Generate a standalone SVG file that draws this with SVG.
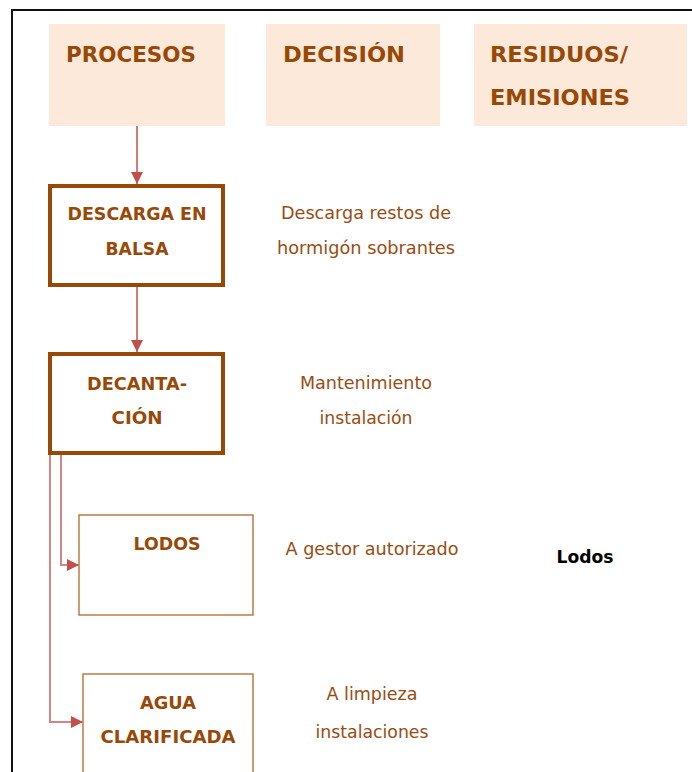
<svg xmlns="http://www.w3.org/2000/svg" width="692" height="772" viewBox="0 0 692 772">
<style>
.hdr{fill:#FDE9D9;stroke:none}
.ht{font-family:"DejaVu Sans","Verdana",sans-serif;font-weight:bold;font-size:22px;fill:#984807}
.nt{font-family:"DejaVu Sans","Verdana",sans-serif;font-weight:bold;font-size:17.5px;fill:#984807;text-anchor:middle}
.dt{font-family:"DejaVu Sans","Verdana",sans-serif;font-size:17.5px;fill:#9A4C12;text-anchor:middle}
.thick{fill:#fff;stroke:#984807;stroke-width:4}
.thin{fill:#fff;stroke:#C07A45;stroke-width:1.5}
.con{fill:none;stroke:#C0504D;stroke-width:1.5}
.con2{fill:none;stroke:#D68585;stroke-width:2}
</style>
<defs>
<marker id="ah" markerWidth="12" markerHeight="12" refX="12" refY="6" orient="auto" markerUnits="userSpaceOnUse">
<path d="M0,0 L12,6 L0,12 Z" fill="#C0504D"/>
</marker>
</defs>
<rect width="692" height="772" fill="#fff"/>
<path d="M12,772 L12,10 L692,10" fill="none" stroke="#111" stroke-width="2"/>
<g id="hdr-procesos"><rect class="hdr" x="49" y="24" width="176" height="102"/><text class="ht" x="66" y="62" textLength="130" lengthAdjust="spacingAndGlyphs">PROCESOS</text></g>
<g id="hdr-decision"><rect class="hdr" x="266" y="24" width="174" height="102"/><text class="ht" x="283" y="62" textLength="122" lengthAdjust="spacingAndGlyphs">DECISIÓN</text></g>
<g id="hdr-residuos"><rect class="hdr" x="474" y="24" width="213" height="102"/><text class="ht" x="490" y="62" textLength="138" lengthAdjust="spacingAndGlyphs">RESIDUOS/</text><text class="ht" x="490" y="105" textLength="140" lengthAdjust="spacingAndGlyphs">EMISIONES</text></g>
<g id="connectors">
<line class="con" x1="137" y1="126" x2="137" y2="184" marker-end="url(#ah)"/>
<line class="con" x1="137" y1="287" x2="137" y2="352" marker-end="url(#ah)"/>
<path class="con2" d="M61,455 L61,565 L79,565" marker-end="url(#ah)"/>
<path class="con2" d="M50,455 L50,722 L83,722" marker-end="url(#ah)"/>
</g>
<g id="descarga"><rect class="thick" x="50" y="186" width="173" height="99"/><text class="nt" x="137" y="220" textLength="139" lengthAdjust="spacingAndGlyphs">DESCARGA EN</text><text class="nt" x="137" y="255" textLength="63" lengthAdjust="spacingAndGlyphs">BALSA</text></g>
<g id="decantacion"><rect class="thick" x="50" y="354" width="173" height="99"/><text class="nt" x="137" y="390" textLength="100" lengthAdjust="spacingAndGlyphs">DECANTA-</text><text class="nt" x="137" y="424" textLength="51" lengthAdjust="spacingAndGlyphs">CIÓN</text></g>
<g id="lodos"><rect class="thin" x="79" y="515" width="174" height="100"/><text class="nt" x="167" y="550" textLength="67" lengthAdjust="spacingAndGlyphs">LODOS</text></g>
<g id="agua"><rect class="thin" x="83" y="674" width="170" height="110"/><text class="nt" x="168" y="709" textLength="56" lengthAdjust="spacingAndGlyphs">AGUA</text><text class="nt" x="168" y="743" textLength="135" lengthAdjust="spacingAndGlyphs">CLARIFICADA</text></g>
<g id="dec1"><text class="dt" x="366" y="219" textLength="170" lengthAdjust="spacingAndGlyphs">Descarga restos de</text><text class="dt" x="366" y="254" textLength="178" lengthAdjust="spacingAndGlyphs">hormigón sobrantes</text></g>
<g id="dec2"><text class="dt" x="366" y="389" textLength="132" lengthAdjust="spacingAndGlyphs">Mantenimiento</text><text class="dt" x="366" y="424" textLength="93" lengthAdjust="spacingAndGlyphs">instalación</text></g>
<g id="dec3"><text class="dt" x="372" y="555" textLength="173" lengthAdjust="spacingAndGlyphs">A gestor autorizado</text></g>
<g id="dec4"><text class="dt" x="372" y="700" textLength="91" lengthAdjust="spacingAndGlyphs">A limpieza</text><text class="dt" x="372" y="738" textLength="113" lengthAdjust="spacingAndGlyphs">instalaciones</text></g>
<g id="res1"><text x="585" y="563" textLength="57" lengthAdjust="spacingAndGlyphs" style="font-family:'DejaVu Sans',Verdana,sans-serif;font-weight:bold;font-size:17.5px;fill:#000;text-anchor:middle">Lodos</text></g>
</svg>
